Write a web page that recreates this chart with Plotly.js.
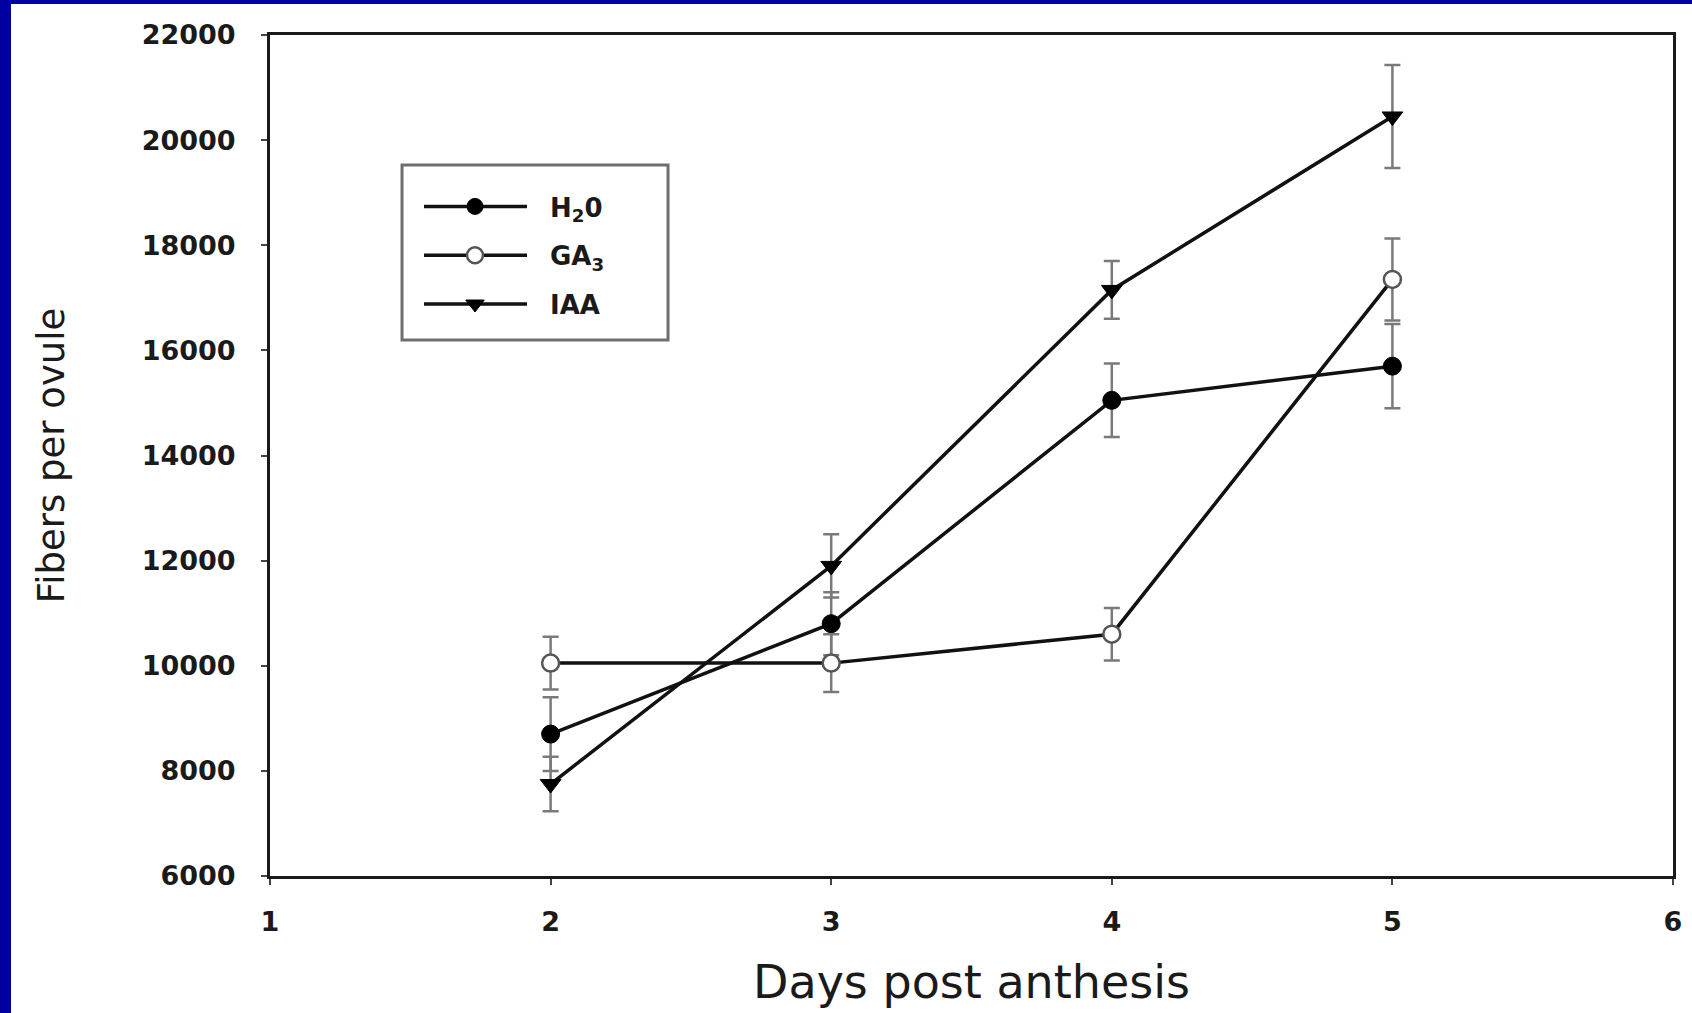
<!DOCTYPE html>
<html>
<head>
<meta charset="utf-8">
<script src="https://cdn.plot.ly/plotly-3.0.1.min.js"></script>
<style>
  html, body { margin: 0; padding: 0; background: #ffffff; width: 1692px; height: 1013px; overflow: hidden; }
  #leftbar { position: absolute; left: 0; top: 0; width: 11px; height: 1013px; background: #0000a0; }
  #topbar { position: absolute; left: 0; top: 0; width: 1692px; height: 4px; background: #0000a0; }
  #chart { position: absolute; left: 11px; top: 4px; width: 1681px; height: 1009px; }
</style>
</head>
<body>
<div id="leftbar"></div>
<div id="topbar"></div>
<div id="chart"></div>
<script>
// Data
const days = [2, 3, 4, 5];

const h2oName = 'H<sub>2</sub>0';
const h2oValues = [8700, 10800, 15050, 15700];
const h2oErrors = [700, 600, 700, 800];

const ga3Name = 'GA<sub>3</sub>';
const ga3Values = [10050, 10050, 10600, 17350];
const ga3Errors = [500, 550, 500, 780];

const iaaName = 'IAA';
const iaaValues = [7750, 11900, 17150, 20450];
const iaaErrors = [520, 600, 550, 980];

const xTitle = 'Days post anthesis';
const yTitle = 'Fibers per ovule';

const errStyle = (arr) => ({ type: 'data', array: arr, visible: true, color: '#7a7a7a', thickness: 2.5, width: 8 });

const traces = [
  {
    x: days, y: h2oValues, name: h2oName, legendgroup: 'a',
    type: 'scatter', mode: 'lines+markers',
    line: { color: '#111111', width: 3.5 },
    marker: { symbol: 'circle', size: 18, color: '#000000', line: { color: '#000000', width: 1 } },
    error_y: errStyle(h2oErrors)
  },
  {
    x: days, y: ga3Values, name: ga3Name, legendgroup: 'b',
    type: 'scatter', mode: 'lines+markers',
    line: { color: '#111111', width: 3.5 },
    marker: { symbol: 'circle', size: 17, color: '#ffffff', line: { color: '#555555', width: 2.5 } },
    error_y: errStyle(ga3Errors)
  },
  {
    x: days, y: iaaValues, name: iaaName, legendgroup: 'c',
    type: 'scatter', mode: 'lines+markers',
    line: { color: '#111111', width: 3.5 },
    marker: { symbol: 'triangle-down', size: 18, color: '#000000', line: { color: '#000000', width: 1 } },
    error_y: errStyle(iaaErrors)
  }
];

const tickFont = { family: 'DejaVu Sans', size: 27, color: '#1a1a1a', weight: 'bold' };

const layout = {
  width: 1681, height: 1009,
  margin: { l: 259, r: 19, t: 31, b: 137, pad: 0 },
  paper_bgcolor: '#ffffff',
  plot_bgcolor: '#ffffff',
  showlegend: true,
  legend: {
    x: 0.1062, y: 0.824, xanchor: 'left', yanchor: 'top',
    bgcolor: 'rgba(0,0,0,0)', borderwidth: 0,
    font: { family: 'DejaVu Sans', size: 26, color: '#1a1a1a', weight: 'bold' },
    tracegroupgap: 12,
    itemwidth: 121
  },
  shapes: [
    {
      type: 'rect', xref: 'paper', yref: 'paper',
      x0: 0.0941, x1: 0.2837, y0: 0.6373, y1: 0.8454,
      line: { color: '#6e6e6e', width: 3 }, fillcolor: '#ffffff', layer: 'above'
    }
  ],
  xaxis: {
    range: [1, 6], tick0: 1, dtick: 1,
    showline: true, mirror: true, linewidth: 3, linecolor: '#1a1a1a',
    ticks: 'outside', ticklen: 6, tickwidth: 2, tickcolor: '#444',
    showgrid: false, zeroline: false,
    tickfont: tickFont,
    ticklabelstandoff: 14,
    title: { text: xTitle, font: { family: 'DejaVu Sans', size: 46, color: '#1a1a1a' }, standoff: 30 }
  },
  yaxis: {
    range: [6000, 22000], tick0: 6000, dtick: 2000, tickformat: 'd',
    showline: true, mirror: true, linewidth: 3, linecolor: '#1a1a1a',
    ticks: 'outside', ticklen: 6, tickwidth: 2, tickcolor: '#444',
    showgrid: false, zeroline: false,
    tickfont: tickFont,
    ticklabelstandoff: 20,
    title: { text: yTitle, font: { family: 'DejaVu Sans', size: 37, color: '#1a1a1a' }, standoff: 66 }
  }
};

Plotly.newPlot('chart', traces, layout, { displayModeBar: false, staticPlot: true }).then(function (gd) {
  // lengthen the legend line samples to match the reference
  gd.querySelectorAll('.legend .traces').forEach(function (tr) {
    tr.querySelectorAll('.legendlines path').forEach(function (p) { p.setAttribute('d', 'M5,0h103'); });
    tr.querySelectorAll('.legendpoints path').forEach(function (p) { p.setAttribute('transform', 'translate(56,0)'); });
  });
});
</script>
</body>
</html>
